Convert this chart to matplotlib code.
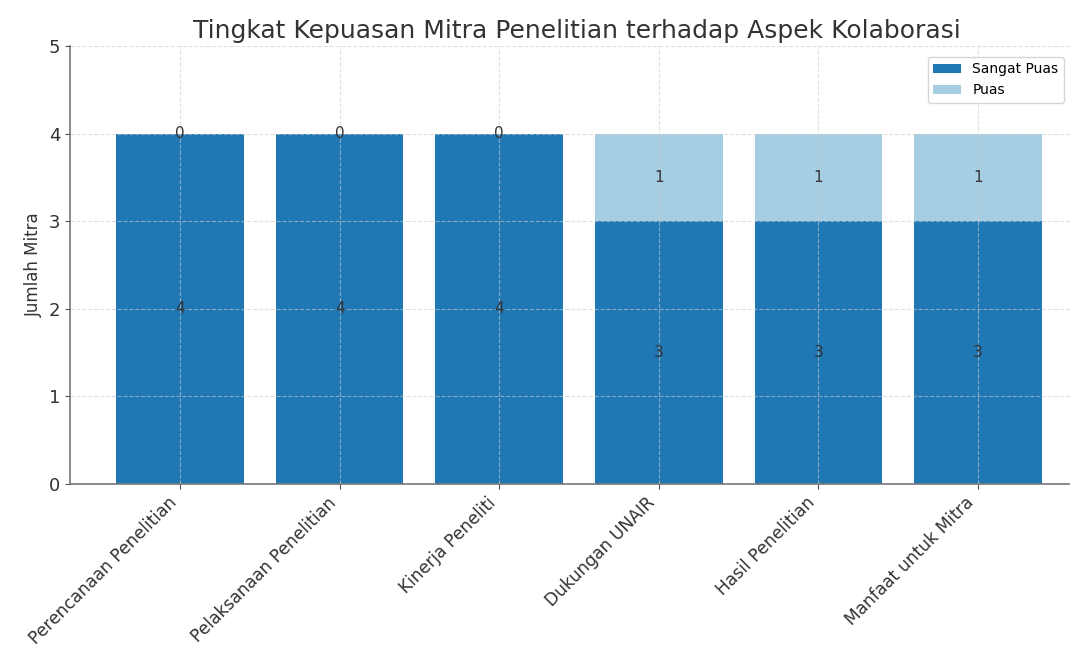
import matplotlib
matplotlib.use("Agg")
import matplotlib.pyplot as plt
import numpy as np

categories = ["Perencanaan Penelitian", "Pelaksanaan Penelitian", "Kinerja Peneliti",
              "Dukungan UNAIR", "Hasil Penelitian", "Manfaat untuk Mitra"]
sangat_puas = [4, 4, 4, 3, 3, 3]
puas = [0, 0, 0, 1, 1, 1]

c_dark = "#1f78b4"
c_light = "#a6cee3"

fig = plt.figure(figsize=(10.7, 6.5), dpi=100)
ax = fig.add_axes([70/1070, 1-484/650, (1088-70)/1070, 438/650])

x = np.arange(len(categories))
b1 = ax.bar(x, sangat_puas, 0.8, color=c_dark, label="Sangat Puas", zorder=2)
b2 = ax.bar(x, puas, 0.8, bottom=sangat_puas, color=c_light, label="Puas", zorder=2)

for rect, v in zip(b1, sangat_puas):
    ax.text(rect.get_x() + rect.get_width()/2, rect.get_y() + rect.get_height()/2, str(v),
            ha="center", va="center", fontsize=11, color="#333333", zorder=4)
for rect, v in zip(b2, puas):
    ax.text(rect.get_x() + rect.get_width()/2, rect.get_y() + rect.get_height()/2, str(v),
            ha="center", va="center", fontsize=11, color="#333333", zorder=4)

ax.set_ylim(0, 5)
ax.set_xticks(x)
ax.set_xticklabels(categories, rotation=45, ha="right", fontsize=12.3, color="#333333")
ax.tick_params(axis="y", labelsize=13, colors="#333333")
ax.tick_params(axis="both", color="#555555")
ax.set_ylabel("Jumlah Mitra", fontsize=12, color="#333333")
ax.set_title("Tingkat Kepuasan Mitra Penelitian terhadap Aspek Kolaborasi", fontsize=18,
             color="#333333", x=(577-70)/1018, pad=6)
ax.grid(True, linestyle="--", color="#cccccc", alpha=0.6, zorder=3)
ax.set_axisbelow(False)
for s in ["top", "right"]:
    ax.spines[s].set_visible(False)
for s in ["left", "bottom"]:
    ax.spines[s].set_color("#777777")
    ax.spines[s].set_linewidth(1.2)

ax.legend(loc="upper right", fontsize=10, bbox_to_anchor=((1068-70)/1018, 0.985),
          borderaxespad=0.3)

fig.savefig("out.png", dpi=100)
